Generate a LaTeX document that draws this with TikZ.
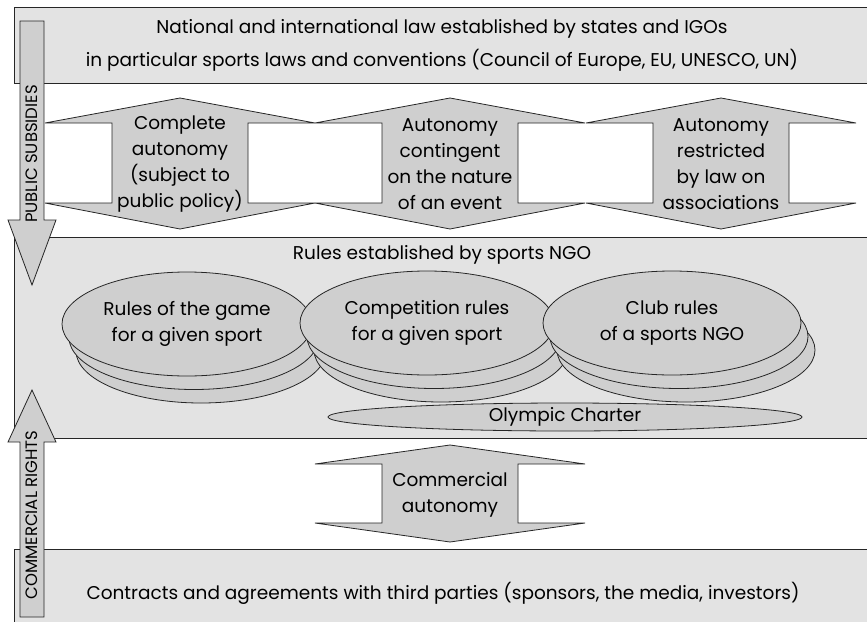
\documentclass[tikz,border=0pt]{standalone}
\usepackage{fontspec}
\setmainfont{Poppins}
\usetikzlibrary{shapes.geometric}

\definecolor{bandgray}{gray}{0.89}
\definecolor{shapegray}{gray}{0.81}

\tikzset{
	band/.style={draw=black!85, fill=bandgray, line width=0.8pt},
	arrowshape/.style={draw=black!85, fill=shapegray, line width=0.8pt},
	disc/.style={draw=black!85, fill=shapegray, line width=0.8pt},
	lbl/.style={font=\fontsize{18.5}{26}\selectfont, align=center, inner sep=0pt},
	sidelbl/.style={font=\fontsize{16.5}{16.5}\selectfont, rotate=90, inner sep=0pt},
}

% vertical double arrow: centre x, top tip, upper base, lower base, bottom tip
\newcommand{\dblarrow}[5]{%
	\draw[arrowshape] (#1,#2) -- (#1+135,#3) -- (#1+68,#3) -- (#1+68,#4) -- (#1+135,#4)
		-- (#1,#5) -- (#1-135,#4) -- (#1-68,#4) -- (#1-68,#3) -- (#1-135,#3) -- cycle;}

% the two lower layers of a stack of discs: centre x, centre y, x radius
\newcommand{\discstack}[3]{%
	\draw[disc] (#1+14,#2+27) ellipse (#3pt and 52pt);
	\draw[disc] (#1+7,#2+13.5) ellipse (#3pt and 52pt);}

\begin{document}
\begin{tikzpicture}[x=1pt,y=-1pt]
		\useasboundingbox (0,0) rectangle (867,621);
		
		% bands
		\node[band, lbl, minimum width=856pt, minimum height=76pt] (natlaw) at (442,45)
			{National and international law established by states and IGOs\\[7pt]
			 in particular sports laws and conventions (Council of Europe, EU, UNESCO, UN)};
		\draw[band] (14,237) rectangle (880,438);
		\draw[band] (14,549) rectangle (880,630);
		
		% side arrows
		\draw[arrowshape] (20,21) -- (44,21) -- (44,220) -- (56,220) -- (32,285) -- (8,220) -- (20,220) -- cycle;
		\draw[arrowshape] (20,617) -- (44,617) -- (44,442) -- (56,442) -- (32,390) -- (8,442) -- (20,442) -- cycle;
		\node[sidelbl] (subsidies) at (32,154) {PUBLIC SUBSIDIES};
		\node[sidelbl] (commrights) at (32,515) {COMMERCIAL RIGHTS};
		
		% autonomy arrows
		\dblarrow{180}{98}{123}{203}{229}
		\dblarrow{450}{98}{123}{203}{229}
		\dblarrow{721}{98}{123}{203}{229}
		\node[lbl] (complete) at (180,164) {Complete\\autonomy\\(subject to\\public policy)};
		\node[lbl] (contingent) at (450,164) {Autonomy\\contingent\\on the nature\\of an event};
		\node[lbl] (restricted) at (721,164) {Autonomy\\restricted\\by law on\\associations};
		
		\node[lbl] (ngorules) at (442,255) {Rules established by sports NGO};
		
		% rule discs
		\discstack{187}{324}{125}
		\node[disc, lbl, ellipse, minimum width=250pt, minimum height=104pt] (gamerules) at (187,324)
			{Rules of the game\\for a given sport};
		\discstack{427}{323}{127}
		\node[disc, lbl, ellipse, minimum width=254pt, minimum height=104pt] (comprules) at (427,323)
			{Competition rules\\for a given sport};
		\discstack{672}{323}{129}
		\node[disc, lbl, ellipse, minimum width=258pt, minimum height=104pt] (clubrules) at (672,323)
			{Club rules\\of a sports NGO};
		\node[disc, lbl, ellipse, minimum width=474pt, minimum height=28pt] (olympic) at (565,417) {Olympic Charter};
		
		% commercial autonomy
		\dblarrow{450}{445}{464}{523}{542}
		\node[lbl] (commauto) at (450,495) {Commercial\\autonomy};
		
		\node[lbl] (contracts) at (443,593)
			{Contracts and agreements with third parties (sponsors, the media, investors)};
\end{tikzpicture}
\end{document}
